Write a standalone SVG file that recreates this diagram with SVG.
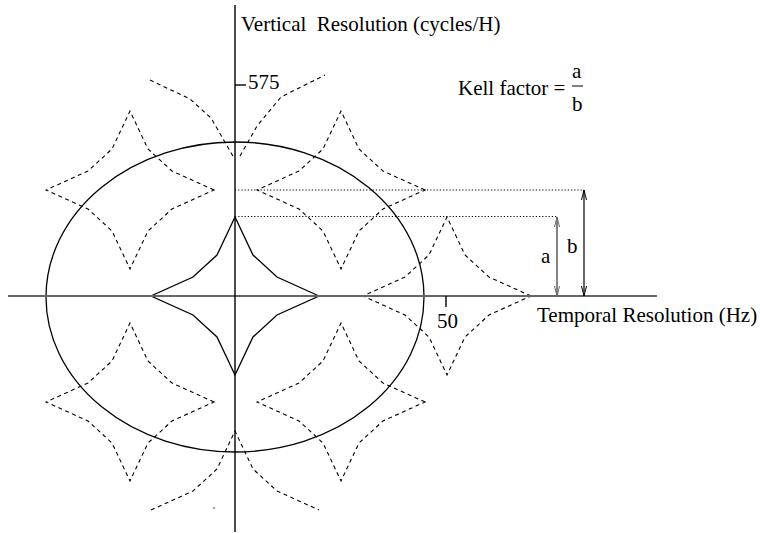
<svg xmlns="http://www.w3.org/2000/svg" xmlns:xlink="http://www.w3.org/1999/xlink" width="760" height="533" viewBox="0 0 760 533">
<style>
text{font-family:"Liberation Serif","Times New Roman",serif;font-size:21px;fill:#000}
.solid{fill:none;stroke:#000;stroke-width:1.3}
.dash{fill:none;stroke:#000;stroke-width:1.1;stroke-dasharray:4 3.5}
.dot{fill:none;stroke:#000;stroke-width:1;stroke-dasharray:1.2 2}
.axis{stroke:#000;stroke-width:1.4}
.haxis{stroke:#666;stroke-width:2}
</style>
<defs>
<path id="astroid" d="M84,0 L42,-19 L18,-41 L0,-79 L-18,-41 L-42,-19 L-84,0 L-42,19 L-18,41 L0,79 L18,41 L42,19 Z"/>
<path id="upperhalf" d="M-84,0 L-42,-19 L-18,-41 L0,-79 L18,-41 L42,-19 L84,0"/>
<marker id="ahk" viewBox="0 0 10 6" refX="10" refY="3" markerWidth="10" markerHeight="6" markerUnits="userSpaceOnUse" orient="auto-start-reverse">
<path d="M0,0.5 L10,3 L0,5.5" fill="none" stroke="#000" stroke-width="1"/>
</marker>
<marker id="ahg" viewBox="0 0 10 6" refX="10" refY="3" markerWidth="10" markerHeight="6" markerUnits="userSpaceOnUse" orient="auto-start-reverse">
<path d="M0,0.5 L10,3 L0,5.5" fill="none" stroke="#666" stroke-width="1"/>
</marker>
</defs>

<g id="replicas">
<use xlink:href="#astroid" href="#astroid" class="dash" transform="translate(130,190)"/>
<use xlink:href="#astroid" href="#astroid" class="dash" transform="translate(341,190)"/>
<use xlink:href="#astroid" href="#astroid" class="dash" transform="translate(130,402)"/>
<use xlink:href="#astroid" href="#astroid" class="dash" transform="translate(341,402)"/>
<use xlink:href="#astroid" href="#astroid" class="dash" transform="translate(447,296)"/>
<path class="dash" d="M150,80 L190,99 L211,118 L234,158"/>
<path class="dash" d="M240,156 L257,126 L281,97 L325,75"/>
<use xlink:href="#upperhalf" href="#upperhalf" class="dash" transform="translate(235,510)"/>
<circle cx="214" cy="508" r="0.7" fill="#000"/>
</g>

<g id="ellipse">
<ellipse cx="235" cy="297" rx="189" ry="155" class="solid"/>
</g>

<g id="baseband">
<use xlink:href="#astroid" href="#astroid" class="solid" transform="translate(235,296)"/>
</g>

<g id="axes">
<line x1="8" y1="296" x2="657" y2="296" class="haxis"/>
<line x1="235" y1="5" x2="235" y2="532" class="axis"/>
<line x1="235" y1="85" x2="246" y2="85" class="axis"/>
<line x1="446" y1="296" x2="446" y2="307" class="axis"/>
<text x="241" y="31" xml:space="preserve">Vertical  Resolution (cycles/H)</text>
<text x="248" y="89">575</text>
<text x="437" y="328">50</text>
<text x="537" y="322">Temporal Resolution (Hz)</text>
</g>

<g id="connectors">
<line x1="235" y1="190" x2="584" y2="190" class="dot"/>
<line x1="235" y1="216.5" x2="557" y2="216.5" class="dot"/>
<line x1="557" y1="217" x2="557" y2="296" stroke="#666" stroke-width="1.6" marker-start="url(#ahg)" marker-end="url(#ahg)"/>
<line x1="584" y1="190" x2="584" y2="296" stroke="#000" stroke-width="1.2" marker-start="url(#ahk)" marker-end="url(#ahk)"/>
</g>

<g id="labels">
<text x="541" y="263">a</text>
<text x="567" y="253">b</text>
<text x="458" y="95">Kell factor =</text>
<text x="572" y="78">a</text>
<line x1="572" y1="86" x2="583" y2="86" stroke="#000" stroke-width="1"/>
<text x="572" y="111">b</text>
</g>
</svg>
